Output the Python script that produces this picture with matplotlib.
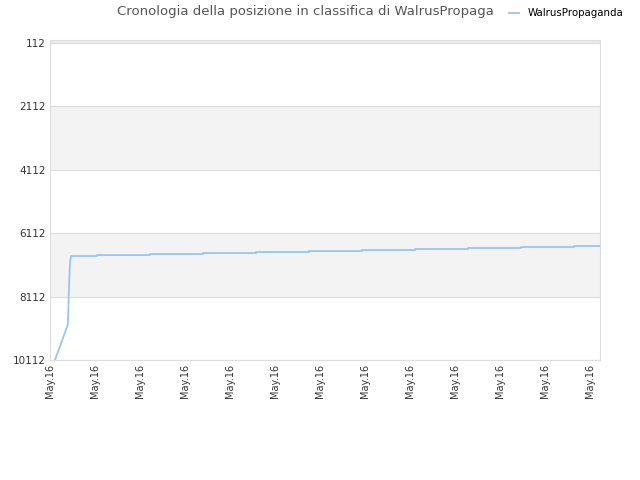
import matplotlib.pyplot as plt

# rank over time (x in arbitrary time units, 0..550)
times = [5, 17.7, 18.3, 19, 20, 21, 47, 47, 100, 100, 153, 153, 206, 206, 259, 259,
         312, 312, 365, 365, 418, 418, 471, 471, 524, 524, 550]
ranks = [10112, 9008, 8629, 7746, 7052, 6831, 6831, 6800, 6800, 6768, 6768, 6737, 6737,
         6705, 6705, 6674, 6674, 6642, 6642, 6610, 6610, 6579, 6579, 6547, 6547, 6516, 6516]
y_ticks = [112, 2112, 4112, 6112, 8112, 10112]
x_ticks = [0, 45, 90, 135, 180, 225, 270, 315, 360, 405, 450, 495, 540]
x_labels = ['May.16'] * len(x_ticks)

fig = plt.figure(figsize=(6.4, 4.8), dpi=100)
ax = fig.add_axes([50 / 640, 1 - 360 / 480, 550 / 640, 320.5 / 480])

# alternating bands, top strip above 112 is shaded too
ax.axhspan(0, y_ticks[0], color='#ebebeb', zorder=0)
for i in range(len(y_ticks) - 1):
    if i % 2 == 1:
        ax.axhspan(y_ticks[i], y_ticks[i + 1], color='#f3f3f3', zorder=0)

ax.plot(times, ranks, color='#99c4f2', lw=1.3, label='WalrusPropaganda', zorder=3)

ax.set_ylim(10112, 0)
ax.set_xlim(0, 550)
ax.set_yticks(y_ticks)
ax.set_yticklabels([str(v) for v in y_ticks], fontsize=7.5, color='#333333')
ax.set_xticks(x_ticks)
ax.set_xticklabels(x_labels, rotation=90, fontsize=7, color='#333333')
ax.tick_params(length=0, pad=3)
ax.yaxis.grid(True, color='#dddddd', lw=0.8)
ax.set_axisbelow(True)
for s in ax.spines.values():
    s.set_color('#dddddd')

fig.text(305 / 640, 1 - 12 / 480, 'Cronologia della posizione in classifica di WalrusPropaga',
         ha='center', va='center', fontsize=9.5, color='#555555')
fig.legend(loc='upper right', bbox_to_anchor=(633 / 640, 1.002), frameon=False, fontsize=7.4,
           handlelength=0.9, handletextpad=0.9)

fig.savefig('out.png')
